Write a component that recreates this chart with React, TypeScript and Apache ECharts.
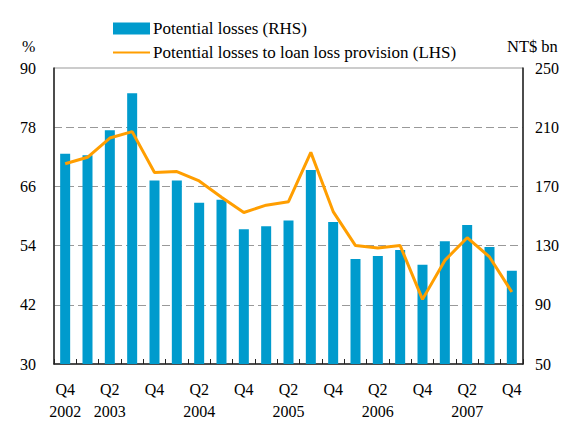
import React, { useEffect, useRef } from "react";
import * as echarts from "echarts";

const categories = [
  "Q4 2002", "Q1 2003", "Q2 2003", "Q3 2003", "Q4 2003",
  "Q1 2004", "Q2 2004", "Q3 2004", "Q4 2004",
  "Q1 2005", "Q2 2005", "Q3 2005", "Q4 2005",
  "Q1 2006", "Q2 2006", "Q3 2006", "Q4 2006",
  "Q1 2007", "Q2 2007", "Q3 2007", "Q4 2007",
];

const potentialLosses = [
  192, 191, 208, 233, 174, 174, 159, 161, 141, 143, 147,
  181, 146, 121, 123, 127, 117, 133, 144, 129, 113,
];

const lossToProvision = [
  70.6, 71.9, 75.8, 77.1, 68.8, 69.0, 67.1, 63.8, 60.7, 62.2, 62.9,
  72.9, 60.9, 54.0, 53.5, 54.0, 43.1, 51.0, 55.6, 51.7, 44.6,
];

const leftTicks = { min: 30, max: 90, interval: 12 };
const rightTicks = { min: 50, max: 250, interval: 40 };

const FONT = "Liberation Serif";

export default function App() {
  const ref = useRef<HTMLDivElement>(null);

  useEffect(() => {
    if (!ref.current) return;
    const chart = echarts.init(ref.current, undefined, { renderer: "svg" });
    chart.setOption({
      animation: false,
      textStyle: { fontFamily: FONT, color: "#000" },
      grid: {
        left: 54,
        right: 40,
        top: 68,
        bottom: 54,
        show: true,
        borderColor: "#999",
        borderWidth: 1,
      },
      legend: {
        orient: "vertical",
        left: 107,
        top: 15,
        itemWidth: 37,
        itemHeight: 12,
        itemGap: 7,
        textStyle: { fontFamily: FONT, fontSize: 17, color: "#000", padding: [0, 0, 0, -2] },
        data: [
          { name: "Potential losses (RHS)", icon: "rect" },
          {
            name: "Potential losses to loan loss provision (LHS)",
            itemStyle: { opacity: 0, borderWidth: 0 },
          },
        ],
      },
      graphic: [
        {
          type: "text",
          left: 22,
          top: 38,
          style: { text: "%", font: `16px ${FONT}`, fill: "#000" },
        },
        {
          type: "text",
          left: 507,
          top: 38,
          style: { text: "NT$ bn", font: `16.5px ${FONT}`, fill: "#000" },
        },
      ],
      xAxis: {
        type: "category",
        data: categories,
        boundaryGap: true,
        axisLine: { lineStyle: { color: "#222", width: 1.5 } },
        axisTick: {
          show: true,
          inside: true,
          length: 5,
          interval: 0,
          lineStyle: { color: "#222" },
        },
        axisLabel: {
          interval: 0,
          margin: 14,
          fontFamily: FONT,
          fontSize: 16,
          lineHeight: 22,
          color: "#000",
          formatter: (value: string, index: number) => {
            if (index % 2 !== 0) return "";
            const [q, y] = value.split(" ");
            return index === 0 || q === "Q2" ? `${q}\n${y}` : q;
          },
        },
        splitLine: { show: false },
      },
      yAxis: [
        {
          type: "value",
          min: leftTicks.min,
          max: leftTicks.max,
          interval: leftTicks.interval,
          position: "left",
          axisLine: { show: true, lineStyle: { color: "#222", width: 1.5 } },
          axisTick: { show: false },
          axisLabel: { margin: 18, fontFamily: FONT, fontSize: 16, color: "#000" },
          splitLine: {
            show: true,
            lineStyle: {
              color: ["transparent", "#999", "#999", "#999", "#999", "transparent"],
              type: [8, 4],
              width: 1,
            },
          },
        },
        {
          type: "value",
          min: rightTicks.min,
          max: rightTicks.max,
          interval: rightTicks.interval,
          position: "right",
          axisLine: { show: true, lineStyle: { color: "#222", width: 1.5 } },
          axisTick: { show: false },
          axisLabel: { margin: 12, fontFamily: FONT, fontSize: 16, color: "#000" },
          splitLine: { show: false },
        },
      ],
      series: [
        {
          name: "Potential losses (RHS)",
          type: "bar",
          yAxisIndex: 1,
          data: potentialLosses,
          barWidth: 10,
          itemStyle: { color: "#009BCD" },
        },
        {
          name: "Potential losses to loan loss provision (LHS)",
          type: "line",
          yAxisIndex: 0,
          data: lossToProvision,
          symbol: "none",
          lineStyle: { color: "#FF9E00", width: 3 },
          itemStyle: { color: "#FF9E00" },
        },
      ],
    });
    return () => chart.dispose();
  }, []);

  return (
    <div
      ref={ref}
      style={{ position: "absolute", left: 0, top: 0, width: 563, height: 422 }}
    />
  );
}
